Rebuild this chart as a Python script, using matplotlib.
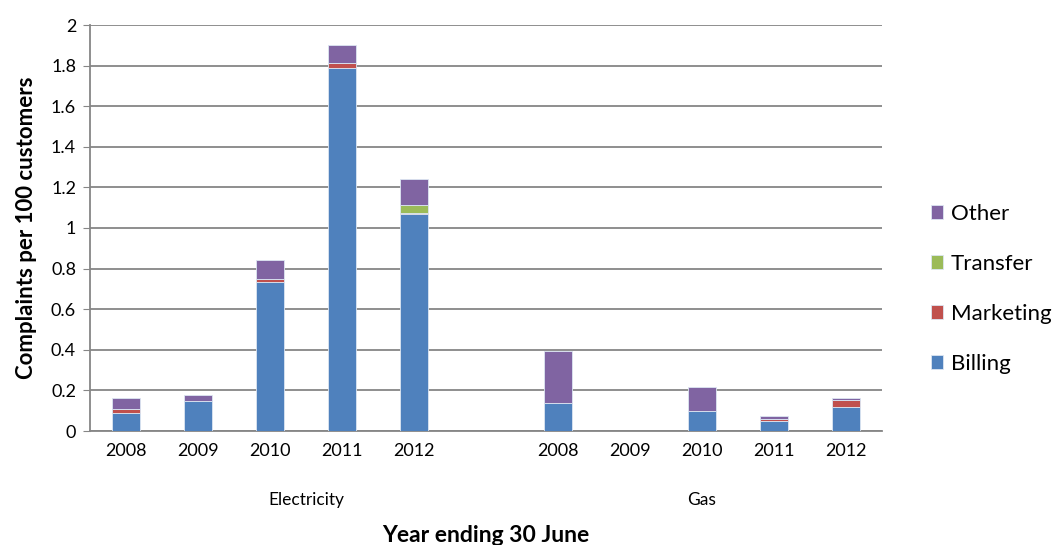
import matplotlib.pyplot as plt
import matplotlib.ticker as ticker
import numpy as np

years = ['2008', '2009', '2010', '2011', '2012', '', '2008', '2009', '2010', '2011', '2012']
groups = ['Electricity', 'Gas']

billing   = [0.09, 0.15, 0.735, 1.79, 1.07, 0, 0.14, 0, 0.097, 0.048, 0.117]
marketing = [0.02, 0.0, 0.012, 0.025, 0.005, 0, 0.0, 0, 0.0, 0.012, 0.037]
transfer  = [0.0, 0.0, 0.0, 0.0, 0.04, 0, 0.0, 0, 0.0, 0.0, 0.0]
other     = [0.055, 0.025, 0.095, 0.085, 0.126, 0, 0.255, 0, 0.12, 0.012, 0.01]

plt.rcParams['font.family'] = ['Lato', 'DejaVu Sans']

C_BILL = '#4F81BD'
C_MKT  = '#C0504D'
C_TRF  = '#9BBB59'
C_OTH  = '#8064A2'

fig = plt.figure(figsize=(10.59, 5.45), dpi=100)
ax = fig.add_axes([90 / 1059, 1 - 431 / 545, 792 / 1059, 406 / 545])

x = np.arange(len(years))
w = 0.39
kw = dict(width=w, edgecolor='#dce6f2', linewidth=0.6, zorder=3)

b0 = np.array(billing)
b1 = b0 + np.array(marketing)
b2 = b1 + np.array(transfer)
ax.bar(x, billing, color=C_BILL, label='Billing', **kw)
ax.bar(x, marketing, bottom=b0, color=C_MKT, label='Marketing', **kw)
ax.bar(x, transfer, bottom=b1, color=C_TRF, label='Transfer', **kw)
ax.bar(x, other, bottom=b2, color=C_OTH, label='Other', **kw)

ax.set_xlim(-0.5, len(years) - 0.5)
ax.set_ylim(0, 2)
ax.yaxis.set_major_locator(ticker.MultipleLocator(0.2))
ax.yaxis.set_major_formatter(ticker.FuncFormatter(lambda v, p: f'{v:g}'))
ax.grid(axis='y', color='#868686', linewidth=1.3, zorder=0)
ax.set_axisbelow(True)

for s in ['top', 'right']:
    ax.spines[s].set_visible(False)
ax.spines['left'].set_color('#868686')
ax.spines['bottom'].set_color('#868686')
ax.spines['left'].set_linewidth(1.3)
ax.spines['bottom'].set_linewidth(1.3)

ax.set_xticks(x)
ax.set_xticklabels(years, fontsize=13)
ax.tick_params(axis='x', length=0, pad=9)
ax.tick_params(axis='y', labelsize=13, length=5, color='#868686', pad=5)

ax.text(2.5, -0.34, groups[0], ha='center', va='center', fontsize=12.5)
ax.text(8, -0.34, groups[1], ha='center', va='center', fontsize=12.5)

ax.set_ylabel('Complaints per 100 customers', fontsize=16, fontweight='bold', labelpad=10)
fig.text(486 / 1059, 1 - 535 / 545, 'Year ending 30 June', ha='center', va='center',
         fontsize=16.5, fontweight='bold')

handles, labels = ax.get_legend_handles_labels()
leg = fig.legend(handles[::-1], labels[::-1], loc='center left',
                 bbox_to_anchor=(922 / 1059, 1 - 289 / 545), frameon=False,
                 fontsize=16, handlelength=0.55, handleheight=0.55,
                 handletextpad=0.35, labelspacing=1.35, borderaxespad=0)

fig.savefig('out.png', dpi=100)
